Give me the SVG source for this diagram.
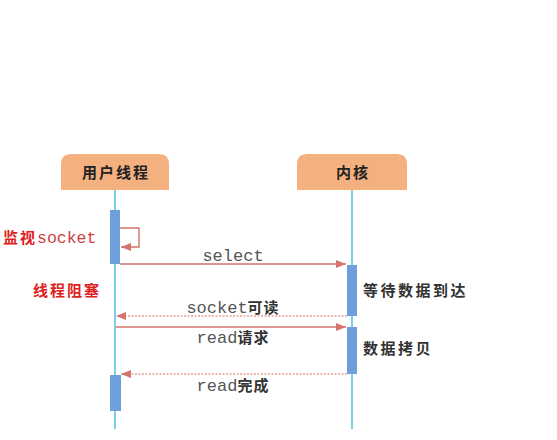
<svg xmlns="http://www.w3.org/2000/svg" width="557" height="440" viewBox="0 0 557 440">
<defs>
<style>
.hdr{fill:#F5B07F}
.hdrt{font-family:"Noto Sans CJK SC","Liberation Sans",sans-serif;font-size:15px;font-weight:bold;fill:#222;letter-spacing:2px}
.life{stroke:#5BC3E0;stroke-width:1.6;fill:none}
.act{fill:#6E9EDC}
.msg{stroke:#D4736B;stroke-width:1.4;fill:none}
.ret{stroke:#D4736B;stroke-width:1.2;fill:none;stroke-dasharray:2 1.5}
.mono{font-family:"Liberation Mono","DejaVu Sans Mono",monospace;font-size:17px;fill:#555}
.cjk{font-family:"Noto Sans CJK SC",sans-serif;font-size:15px;font-weight:bold;fill:#333;letter-spacing:1px}
.lbl{font-family:"Noto Sans CJK SC",sans-serif;font-size:15px;font-weight:bold;fill:#333;letter-spacing:2.5px}
.red{font-family:"Noto Sans CJK SC",sans-serif;font-size:15px;font-weight:bold;fill:#E02020;letter-spacing:2px}
.redm{font-family:"Liberation Mono","DejaVu Sans Mono",monospace;font-size:16.5px;fill:#D04040;font-weight:normal;letter-spacing:0}
</style>
<marker id="ah" markerWidth="10" markerHeight="8" refX="10" refY="4" orient="auto" markerUnits="userSpaceOnUse">
<path d="M0,0 L10,4 L0,8 Z" fill="#D4736B"/>
</marker>
</defs>
<rect width="557" height="440" fill="#fff"/>
<g id="user-thread">
<path class="hdr" d="M61,190 L61,164 Q61,154 71,154 L159,154 Q169,154 169,164 L169,190 Z"/>
<text class="hdrt" x="116" y="178" text-anchor="middle">用户线程</text>
<line class="life" x1="115" y1="190" x2="115" y2="429"/>
<rect class="act" x="110" y="210" width="10" height="54"/>
<rect class="act" x="110" y="375" width="11" height="36"/>
</g>
<g id="kernel">
<path class="hdr" d="M297,190 L297,164 Q297,154 307,154 L397,154 Q407,154 407,164 L407,190 Z"/>
<text class="hdrt" x="353" y="178" text-anchor="middle">内核</text>
<line class="life" x1="352" y1="190" x2="352" y2="429"/>
<rect class="act" x="347" y="265" width="10" height="51"/>
<rect class="act" x="347" y="327" width="10" height="47"/>
</g>
<g id="connectors">
<path class="msg" d="M120,228 L139,228 L139,247 L121,247" marker-end="url(#ah)"/>
<line class="msg" x1="120" y1="264" x2="346" y2="264" marker-end="url(#ah)"/>
<line class="ret" x1="347" y1="316" x2="116" y2="316" marker-end="url(#ah)"/>
<line class="msg" x1="116" y1="327" x2="346" y2="327" marker-end="url(#ah)"/>
<line class="ret" x1="347" y1="374" x2="121" y2="374" marker-end="url(#ah)"/>
</g>
<g id="labels">
<text class="mono" x="233" y="261" text-anchor="middle">select</text>
<text x="233" y="313" text-anchor="middle"><tspan class="mono">socket</tspan><tspan class="cjk">可读</tspan></text>
<text x="233" y="343" text-anchor="middle"><tspan class="mono">read</tspan><tspan class="cjk">请求</tspan></text>
<text x="233" y="391" text-anchor="middle"><tspan class="mono">read</tspan><tspan class="cjk">完成</tspan></text>
<text class="lbl" x="363" y="296">等待数据到达</text>
<text class="lbl" x="363" y="354">数据拷贝</text>
<text x="3" y="243"><tspan class="red">监视</tspan><tspan class="redm">socket</tspan></text>
<text class="red" x="33" y="296">线程阻塞</text>
</g>
</svg>
